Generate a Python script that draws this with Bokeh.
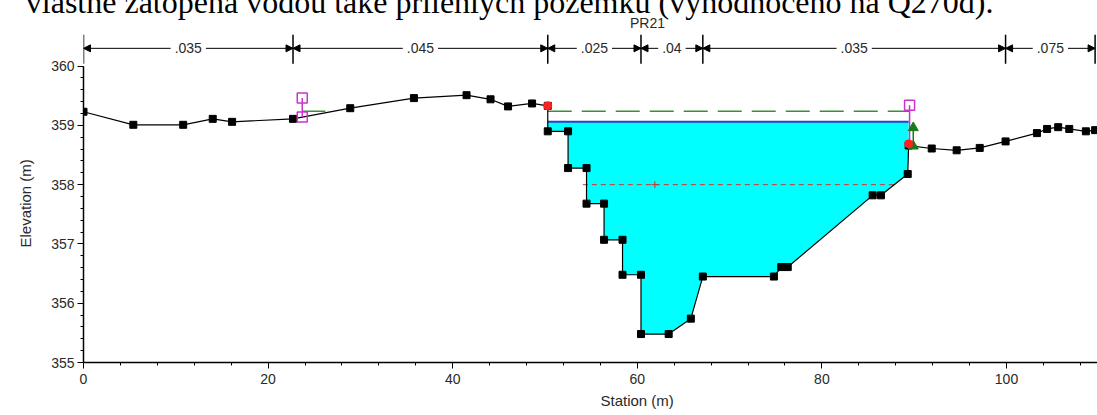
from bokeh.plotting import figure
from bokeh.models import (SingleIntervalTicker, Label, Arrow, NormalHead, ColumnDataSource,
                          Title)
from bokeh.embed import file_html
from bokeh.resources import INLINE

# ---- data ----
ground_sta = [0, 5.4, 10.8, 14.0, 16.1, 22.7, 28.9, 35.8, 41.5, 44.1, 46.0, 48.6, 50.3,
              50.3, 52.5, 52.5, 54.5, 54.5, 56.4, 56.4, 58.4, 58.4, 60.4, 60.4, 63.4,
              65.8, 67.1, 74.8, 75.6, 76.3, 85.5, 86.4, 89.3, 89.4, 91.9, 94.6, 97.1,
              99.9, 103.3, 104.4, 105.6, 106.8, 108.6, 109.6]
ground_elev = [359.23, 359.01, 359.01, 359.11, 359.06, 359.11, 359.29, 359.46, 359.51,
               359.44, 359.32, 359.37, 359.33, 358.90, 358.90, 358.28, 358.28, 357.68,
               357.68, 357.07, 357.07, 356.48, 356.48, 355.48, 355.48, 355.74, 356.45,
               356.45, 356.61, 356.61, 357.82, 357.82, 358.18, 358.66, 358.61, 358.58,
               358.62, 358.73, 358.87, 358.94, 358.97, 358.94, 358.90, 358.92]
ws_elev = 359.06
eg_elev = 359.24
eg_left_sta = [23.7, 26.2]
crit_elev = 358.00
crit_sta = [54.1, 87.8]
crit_mark_sta = 61.9
bank_sta = [50.3, 89.4]
bank_elev = [359.33, 358.69]
levee_left_sta = 23.7
levee_left_elev = [359.14, 359.46]
levee_right_sta = 89.5
levee_right_elev = [358.66, 359.34]
ineff_sta = 89.9
ineff_elev = [358.65, 358.96]
n_breaks = [0, 22.7, 50.3, 60.4, 67.1, 99.9, 109.6]
n_values = [".035", ".045", ".025", ".04", ".035", ".075"]
section_name = "PR21"
caption = "vlastně zatopená vodou také přilehlých pozemků (vyhodnoceno na Q270d)."

FONT = "Liberation Sans"
TXT = "#2a2a2a"

p = figure(width=1097, height=415, x_range=(0, 109.86), y_range=(355, 361.09),
           output_backend="svg", toolbar_location=None,
           min_border_left=83, min_border_right=0, min_border_top=0, min_border_bottom=53)
p.outline_line_color = None
p.xgrid.visible = False
p.ygrid.visible = False
p.background_fill_color = "white"
p.border_fill_color = "white"

p.xaxis.ticker = SingleIntervalTicker(interval=20, num_minor_ticks=5)
p.yaxis.ticker = SingleIntervalTicker(interval=1, num_minor_ticks=5)
p.yaxis.bounds = (355, 360)
for ax in (p.xaxis, p.yaxis):
    ax.axis_line_color = "black"
    ax.axis_line_width = 1.5
    ax.major_tick_line_color = "black"
    ax.minor_tick_line_color = "black"
    ax.major_tick_in = 0
    ax.major_tick_out = 6
    ax.minor_tick_in = 0
    ax.minor_tick_out = 3
    ax.major_label_text_font = FONT
    ax.major_label_text_font_size = "14px"
    ax.major_label_text_color = TXT
p.yaxis.major_label_standoff = 3
p.xaxis.major_label_standoff = 5

# water fill polygon built from ground data
poly_x = [bank_sta[0]]
poly_y = [ws_elev]
for s, e in zip(ground_sta, ground_elev):
    if bank_sta[0] <= s <= bank_sta[1] and e < ws_elev:
        poly_x.append(s)
        poly_y.append(e)
poly_x.append(bank_sta[1])
poly_y.append(ws_elev)
p.patch(poly_x, poly_y, fill_color="#00FFFF", line_color=None)

# water surface
p.line([bank_sta[0], bank_sta[1]], [ws_elev, ws_elev], line_color="#2a3fd0", line_width=2)
# energy grade
p.line([bank_sta[0], levee_right_sta], [eg_elev, eg_elev], line_color="#3a8f3a",
       line_width=1.5, line_dash="24 10")
p.line(eg_left_sta, [eg_elev, eg_elev], line_color="#3a8f3a", line_width=1.5)
# critical water surface
p.line(crit_sta, [crit_elev, crit_elev], line_color="#cc3333", line_width=1, line_dash="5 4")
p.scatter([crit_mark_sta], [crit_elev], marker="cross", size=7, line_color="#cc3333")

# ground
p.line(ground_sta, ground_elev, line_color="black", line_width=1.2)
p.scatter(ground_sta, ground_elev, marker="square", size=7, color="black")

# levees
p.line([levee_left_sta] * 2, levee_left_elev, line_color="#cc33cc", line_width=1.5)
p.scatter([levee_left_sta] * 2, levee_left_elev, marker="square", size=10,
          fill_color=None, line_color="#cc33cc", line_width=1.5)
p.line([levee_right_sta] * 2, levee_right_elev, line_color="#cc33cc", line_width=1.5)
p.scatter([levee_right_sta], [levee_right_elev[1]], marker="square", size=10,
          fill_color=None, line_color="#cc33cc", line_width=1.5)
# ineffective markers
p.line([ineff_sta] * 2, ineff_elev, line_color="#1a7a1a", line_width=1.5)
p.scatter([ineff_sta] * 2, ineff_elev, marker="triangle", size=10, color="#1a7a1a")
# bank stations
p.scatter(bank_sta, bank_elev, marker="circle", size=8, color="#ff2020")

# Manning's n bar
n_y = 360.30
p.segment(x0=n_breaks, y0=[360.04] * len(n_breaks), x1=n_breaks, y1=[360.53] * len(n_breaks),
          line_color="black", line_width=1.5)
arr_src = ColumnDataSource(dict(x0=n_breaks[:-1], x1=n_breaks[1:],
                                y=[n_y] * len(n_values)))
p.add_layout(Arrow(x_start="x0", y_start="y", x_end="x1", y_end="y", source=arr_src,
                   line_color="black", line_width=1,
                   start=NormalHead(size=7, fill_color="black", line_color="black"),
                   end=NormalHead(size=7, fill_color="black", line_color="black")))
for a, b, t in zip(n_breaks[:-1], n_breaks[1:], n_values):
    p.add_layout(Label(x=(a + b) / 2, y=n_y, text=t, text_align="center",
                       text_baseline="middle", text_font=FONT, text_font_size="14px",
                       text_color=TXT, background_fill_color="white", padding=4))

p.add_layout(Label(x=61.1, y=360.72, text=section_name, text_align="center",
                   text_baseline="middle", text_font=FONT, text_font_size="14px",
                   text_color=TXT))

# caption of the surrounding document, cut by the top edge
p.add_layout(Title(text=caption, align="right", offset=104, standoff=-37,
                   vertical_align="bottom", text_font="Liberation Serif",
                   text_font_size="32px", text_font_style="normal",
                   text_color="black"), "above")
# axis titles
p.add_layout(Title(text="Station (m)", align="left", offset=517, standoff=7,
                   vertical_align="bottom", text_font=FONT, text_font_size="15px",
                   text_font_style="normal", text_color=TXT), "below")
p.add_layout(Title(text="Elevation (m)", align="left", offset=115, standoff=28,
                   vertical_align="middle", text_font=FONT, text_font_size="15px",
                   text_font_style="normal", text_color=TXT), "left")

open("out.html", "w").write(file_html(p, INLINE))
